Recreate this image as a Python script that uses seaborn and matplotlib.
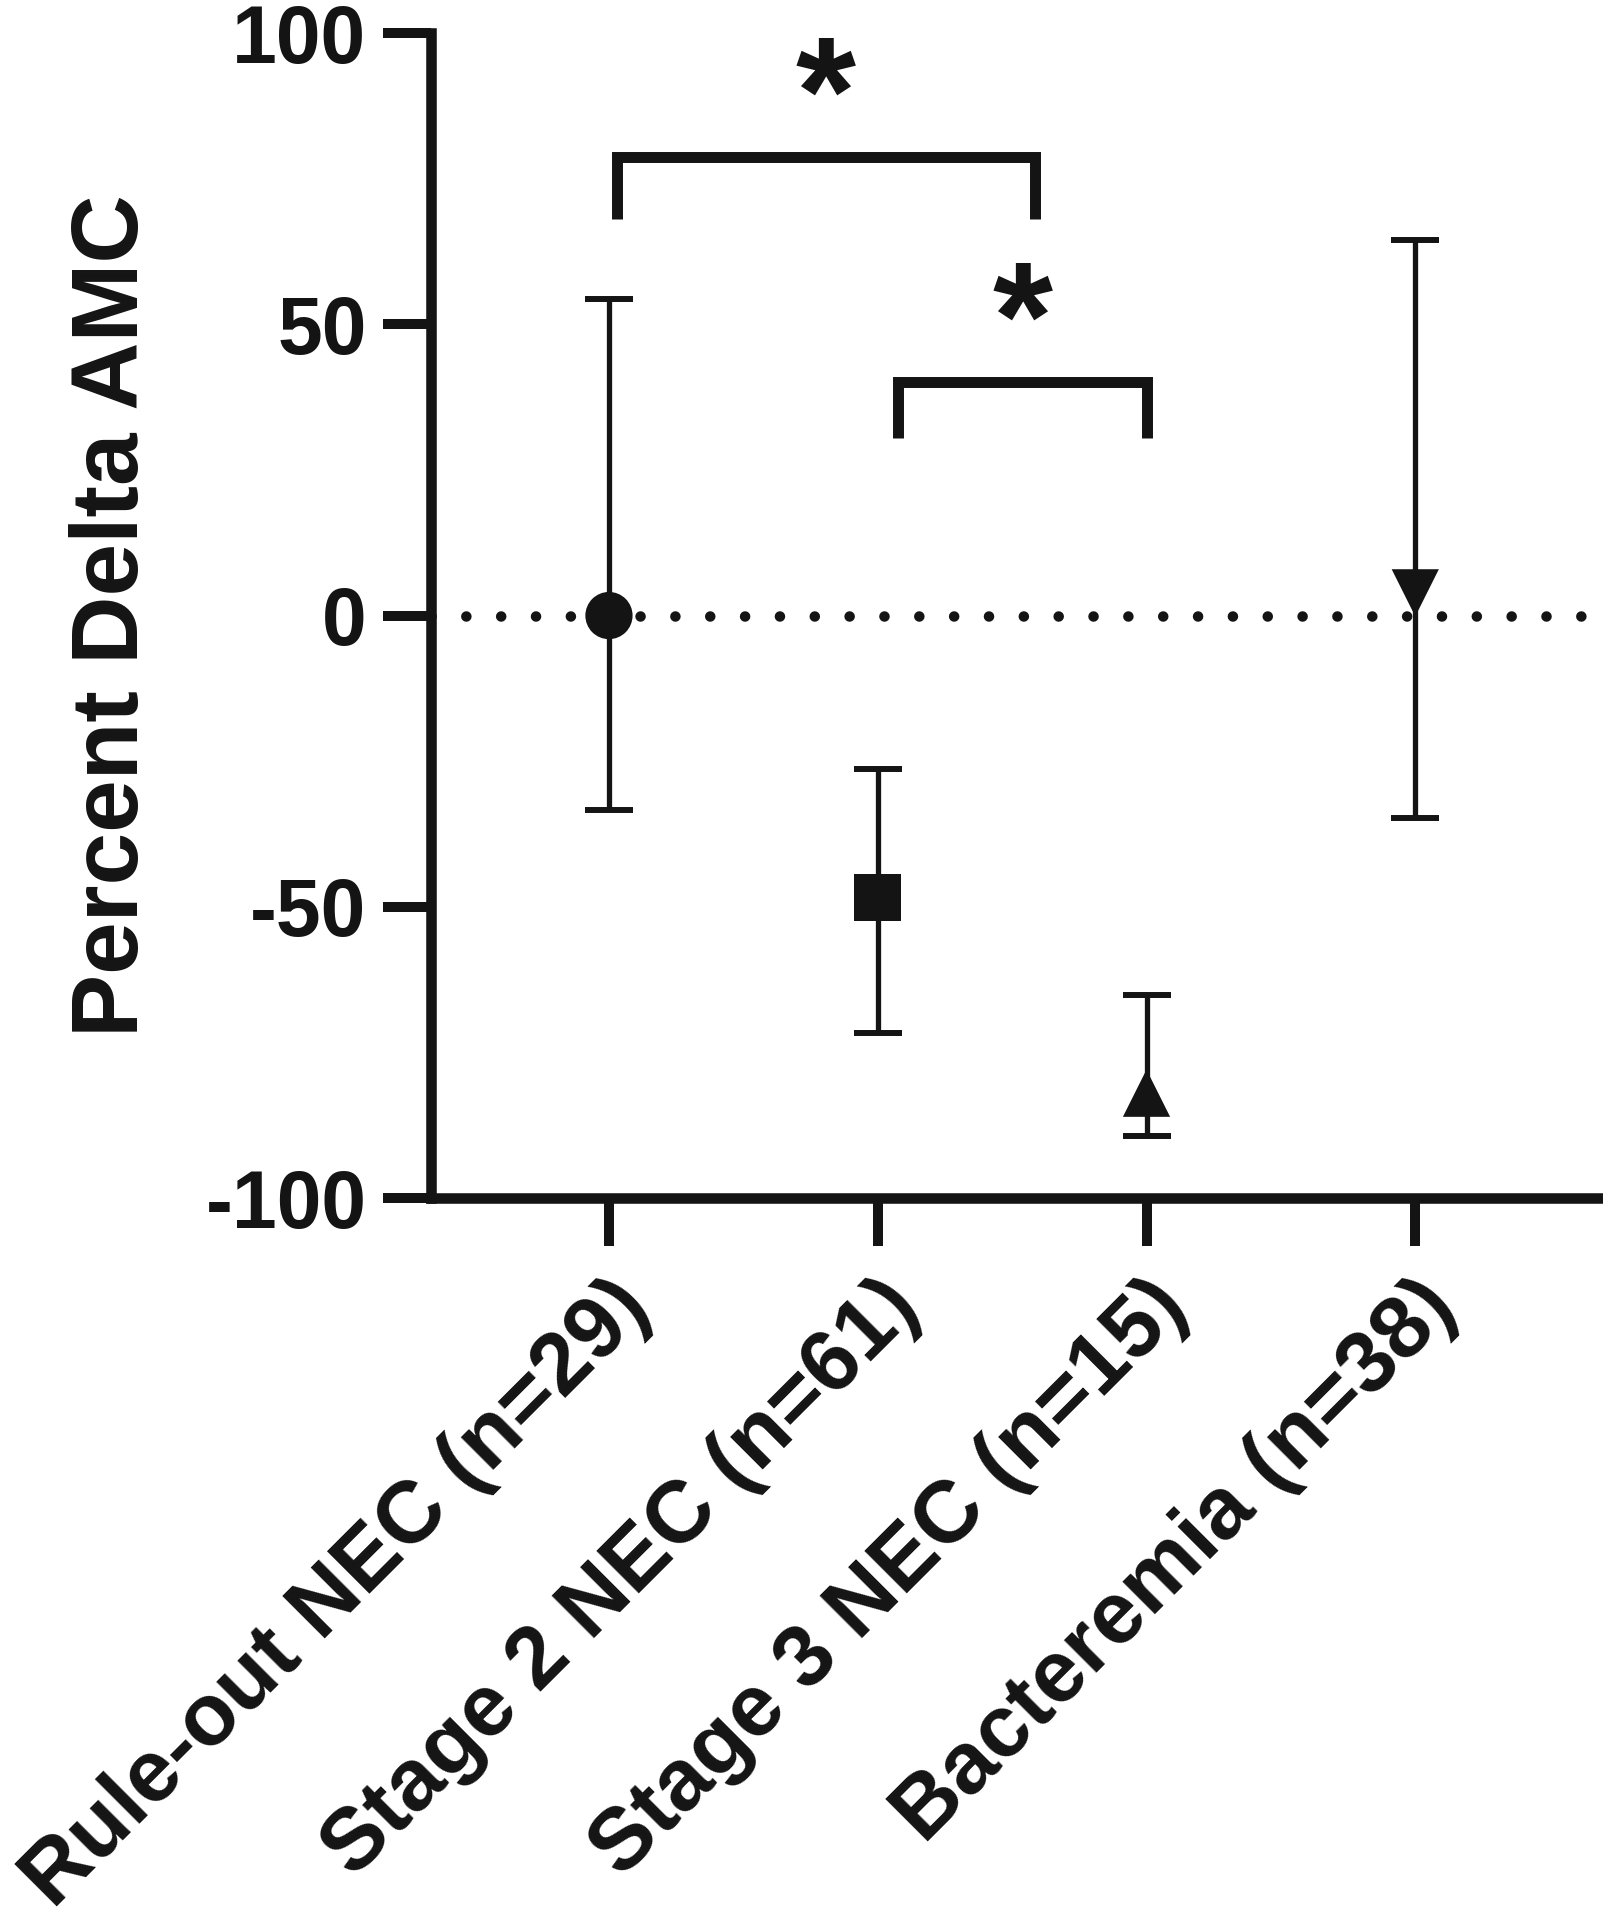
import numpy as np
import pandas as pd
import seaborn as sns
import matplotlib.pyplot as plt

# values (percent delta AMC, mean with error bar ends)
groups = ["Rule-out NEC (n=29)", "Stage 2 NEC (n=61)", "Stage 3 NEC (n=15)", "Bacteremia (n=38)"]
means = [0.0, -48.4, -82.0, 3.9]
err_top = [54.3, -26.3, -65.1, 64.5]
err_bottom = [-33.4, -71.6, -89.4, -34.7]
markers = ["o", "s", "^", "v"]

# significance brackets: (x start, x end, bar height, leg bottom)
bracket_x = [(0.03, 1.585), (1.074, 2.0)]
bracket_y = [(78.8, 68.0), (40.1, 30.4)]
bracket_text = ["*", "*"]

yticks = [-100, -50, 0, 50, 100]

INK = "#141414"

sns.set_style("ticks")
plt.rcParams["font.family"] = ["Liberation Sans", "DejaVu Sans"]
plt.rcParams["font.weight"] = "bold"

df = pd.DataFrame({"group": groups, "mean": means,
                   "top": err_top, "bottom": err_bottom})

fig = plt.figure(figsize=(16.03, 19.2), dpi=100)
ax = fig.add_axes([0.2689, 0.3760, 0.728, 0.6068])

# zero reference line (dotted)
ax.axhline(0, color=INK, lw=7.6, ls=(0, (0.001, 3.3)), dash_capstyle="round", zorder=1)

# error bars
xs = np.arange(len(groups))
ax.errorbar(xs, df["mean"],
            yerr=[df["mean"] - df["bottom"], df["top"] - df["mean"]],
            fmt="none", ecolor=INK, elinewidth=3.8, capsize=17.5, capthick=4.3, zorder=2)

# markers
sns.scatterplot(data=df, x="group", y="mean", style="group",
                markers=dict(zip(groups, markers)), s=34 ** 2, color=INK,
                edgecolor=INK, linewidth=0, legend=False, ax=ax, zorder=3)

# significance brackets
for (x0, x1), (yb, yl), txt in zip(bracket_x, bracket_y, bracket_text):
    ax.plot([x0, x0, x1, x1], [yl, yb, yb, yl], color=INK, lw=7.9,
            solid_capstyle="butt", solid_joinstyle="miter", zorder=2)
    ax.text((x0 + x1) / 2, yb + 2.3, txt, ha="center", va="baseline",
            fontsize=111, fontweight="bold", color=INK)

ax.set_xlim(-0.662, 3.68)
ax.set_ylim(-100, 100)
ax.set_yticks(yticks)
ax.set_yticklabels([str(v) for v in yticks])
ax.set_xticks(xs)
ax.set_xticklabels(groups, rotation=45, ha="right", rotation_mode="anchor")

for side in ["top", "right"]:
    ax.spines[side].set_visible(False)
for side in ["left", "bottom"]:
    ax.spines[side].set_linewidth(7.6)
    ax.spines[side].set_color(INK)
    ax.spines[side].set_capstyle("projecting")

ax.tick_params(axis="both", length=34.5, width=7.2, color=INK, labelcolor=INK,
               direction="out")
ax.tick_params(axis="y", pad=12, labelsize=58)
ax.tick_params(axis="x", pad=14, labelsize=63)
for lab in ax.get_xticklabels() + ax.get_yticklabels():
    lab.set_fontweight("bold")

ax.set_xlabel("")
ax.set_ylabel("")
fig.text(114 / 1603, 1 - 616 / 1920, "Percent Delta AMC", rotation=90,
         ha="center", va="center", fontsize=68, fontweight="bold", color=INK)

fig.savefig("out.png", dpi=100, facecolor="white")
